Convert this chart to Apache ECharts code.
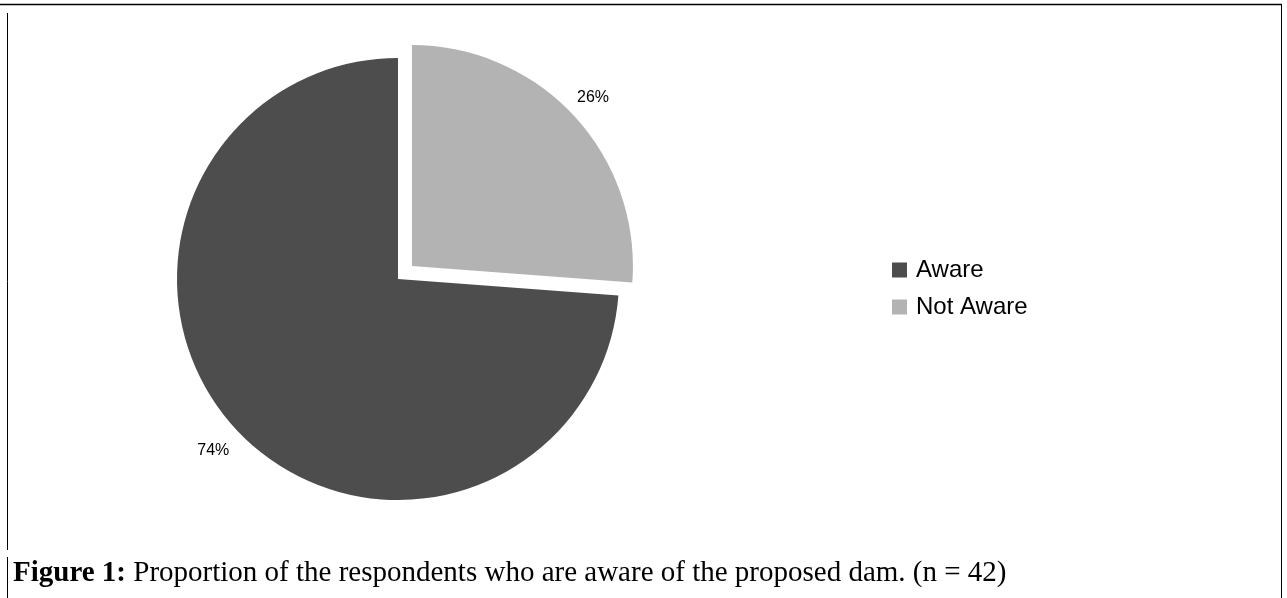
<!DOCTYPE html>
<html>
<head>
<meta charset="utf-8">
<title>Awareness of the proposed dam</title>
<script src="https://cdn.jsdelivr.net/npm/echarts@6/dist/echarts.min.js"></script>
<style>
  html, body { margin: 0; padding: 0; background: #ffffff; }
  #chart { width: 1287px; height: 598px; }
</style>
</head>
<body>
<div id="chart"></div>
<script>
// Survey responses (n = 42)
const categories = ['Not Aware', 'Aware'];
const counts = [11, 31];
const sliceColors = ['#b3b3b3', '#4d4d4d'];
const legendOrder = ['Aware', 'Not Aware'];
const explodedSlice = 'Not Aware';
const captionBold = 'Figure 1:';
const captionText = ' Proportion of the respondents who are aware of the proposed dam. (n = 42)';

const PIE_CENTER = [398, 279];
const PIE_RADIUS = 221;
const EXPLODE = 19;

const chart = echarts.init(document.getElementById('chart'), null, { renderer: 'canvas' });

const sliceData = categories.map((name, i) => ({
  name: name,
  value: counts[i],
  selected: name === explodedSlice,
  itemStyle: { color: sliceColors[i] }
}));

// same slices, invisible, used only to place the percentage labels on each slice's mid-angle ray
const labelData = categories.map((name, i) => ({
  name: name,
  value: counts[i],
  selected: name === explodedSlice
}));

const option = {
  animation: false,
  backgroundColor: '#ffffff',
  legend: {
    data: legendOrder,
    orient: 'vertical',
    left: 887,
    top: 253,
    icon: 'rect',
    itemWidth: 15,
    itemHeight: 15,
    itemGap: 13,
    selectedMode: false,
    textStyle: { fontFamily: 'Liberation Sans, Arial, sans-serif', fontSize: 24, color: '#000000', padding: [0, 0, 0, 4] }
  },
  series: [{
    type: 'pie',
    center: PIE_CENTER,
    radius: PIE_RADIUS,
    startAngle: 90,
    clockwise: true,
    selectedMode: 'multiple',
    selectedOffset: EXPLODE,
    silent: true,
    emphasis: { disabled: true },
    label: { show: false },
    labelLine: { show: false },
    data: sliceData
  }, {
    type: 'pie',
    center: PIE_CENTER,
    radius: [PIE_RADIUS + 16, PIE_RADIUS + 40],
    startAngle: 90,
    clockwise: true,
    selectedMode: 'multiple',
    selectedOffset: EXPLODE - 5,
    silent: true,
    emphasis: { disabled: true },
    itemStyle: { color: 'rgba(0,0,0,0)' },
    label: {
      show: true,
      position: 'inside',
      formatter: p => Math.round(p.percent) + '%',
      fontFamily: 'Liberation Sans, Arial, sans-serif',
      fontSize: 16,
      color: '#000000'
    },
    labelLine: { show: false },
    data: labelData
  }],
  graphic: [
    // table borders around the figure
    { type: 'line', silent: true, shape: { x1: 0, y1: 4.5, x2: 1282, y2: 4.5 }, style: { stroke: '#000', lineWidth: 1.5 } },
    { type: 'line', silent: true, shape: { x1: 7.5, y1: 13, x2: 7.5, y2: 550 }, style: { stroke: '#000', lineWidth: 1 } },
    { type: 'line', silent: true, shape: { x1: 7.5, y1: 557, x2: 7.5, y2: 598 }, style: { stroke: '#000', lineWidth: 1 } },
    { type: 'line', silent: true, shape: { x1: 1281.5, y1: 4, x2: 1281.5, y2: 598 }, style: { stroke: '#000', lineWidth: 1 } },
    // caption
    {
      type: 'text',
      silent: true,
      left: 13,
      top: 559,
      style: {
        text: '{b|' + captionBold + '}{n|' + captionText + '}',
        rich: {
          b: { fontFamily: 'Liberation Serif, Times New Roman, serif', fontSize: 29, fontWeight: 'bold', fill: '#000' },
          n: { fontFamily: 'Liberation Serif, Times New Roman, serif', fontSize: 29, fill: '#000' }
        }
      }
    }
  ]
};

chart.setOption(option);
</script>
</body>
</html>
